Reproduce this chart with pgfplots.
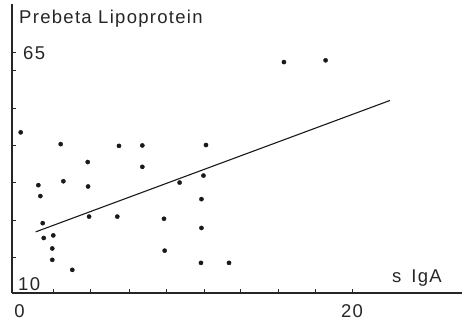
\documentclass[border=0pt]{standalone}
\usepackage{fontspec}
\setmainfont{Liberation Sans}[LetterSpace=7]
\usepackage{pgfplots}
\pgfplotsset{compat=1.18}
\begin{document}
\begin{tikzpicture}
\useasboundingbox (-12pt,-31pt) rectangle (453pt,293pt);
\begin{axis}[
  at={(0pt,0pt)}, anchor=south west,
  scale only axis, width=450pt, height=289pt,
  xmin=-0.238, xmax=26.55, ymin=10, ymax=76.2,
  axis x line*=bottom, axis y line*=left,
  axis line style={line width=1.1pt, black!85},
  every tick/.style={black!85, line width=0.9pt},
  tick align=inside, major tick length=4pt,
  /pgf/number format/assume math mode=true,
  tick label style={font=\fontsize{18.5}{21}\selectfont, text=black!85},
  label style={font=\fontsize{18.5}{21}\selectfont, text=black!85},
  xtick={2.22,4.45,6.74,8.97,11.19,13.38,15.6,17.82,20},
  xticklabels={,,,,,,,,20},
  xticklabel style={yshift=-8pt},
  extra x ticks={0.21}, extra x tick labels={0},
  extra x tick style={major tick length=0pt},
  ytick={18.25,26.73,35.27,43.91,52.32,61.05,65},
  yticklabels={,,,,,,65},
  yticklabel style={anchor=west, inner sep=0pt, xshift=11pt},
  extra y ticks={12.06}, extra y tick labels={10},
  extra y tick style={major tick length=0pt, yticklabel style={xshift=-5pt}},
  ylabel={Prebeta Lipoprotein},
  ylabel style={at={(axis description cs:0.0156,0.934)}, rotate=-90, anchor=base west, inner sep=0pt},
  xlabel={s\hspace{10pt}IgA},
  xlabel style={at={(axis description cs:0.9556,0.038)}, anchor=base east, inner sep=0pt},
  clip=false,
]
\addplot[only marks, mark=*, mark size=2.1pt, black!90] table {
x y
0.28 46.8
2.66 44.1
6.13 43.7
7.52 43.8
11.31 43.9
4.27 40.0
7.52 38.9
1.33 34.7
2.82 35.6
4.29 34.4
1.45 32.2
9.74 35.3
11.16 36.9
11.04 31.5
1.59 26.0
4.35 27.5
6.03 27.5
8.81 27.0
1.65 22.6
2.22 23.2
2.16 20.2
2.16 17.6
3.35 15.3
8.85 19.7
11.04 24.9
11.01 16.9
12.68 16.9
15.95 62.9
18.43 63.3
};
\addplot[black!90, line width=1.1pt] coordinates {(1.17,24.0) (22.26,54.1)};
\end{axis}
\end{tikzpicture}
\end{document}
